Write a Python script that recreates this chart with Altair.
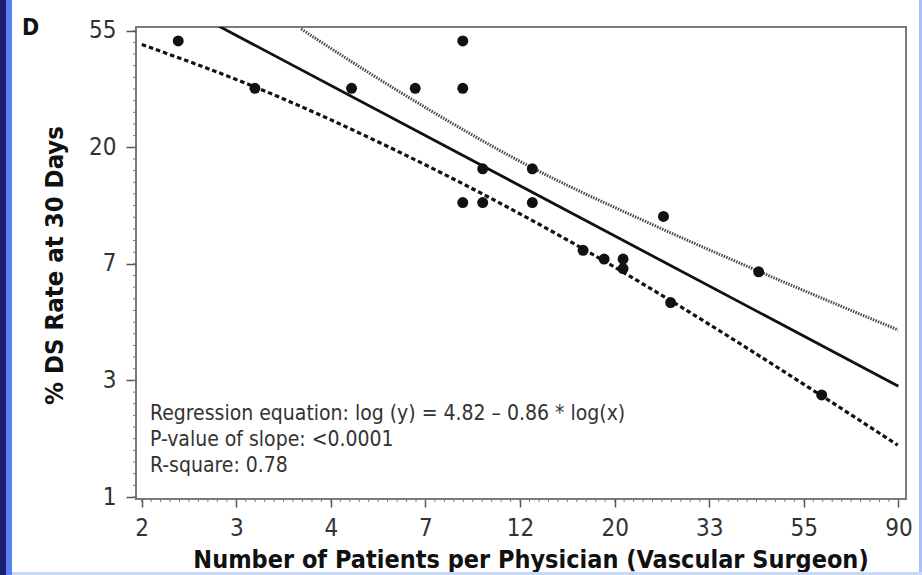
import json
import numpy as np
import pandas as pd
import altair as alt

# Observed physicians: patients treated vs. % DS rate at 30 days
patients = [2, 3, 5, 7, 9, 9, 10, 13, 9, 10, 13, 26, 17, 19, 21, 21, 27, 43, 60]
ds_rate = [50, 33.3, 33.3, 33.3, 50, 33.3, 16.7, 16.7, 12.5, 12.5, 12.5,
           11.1, 8.3, 7.7, 7.7, 7.1, 5.3, 6.9, 2.4]

# 95% confidence limits around the fitted line
lower_x = [1.65, 3.0, 6.3, 17.0, 27.1, 60.3, 89.7]
lower_y = [48.5, 33.7, 19.6, 8.4, 5.37, 2.37, 1.56]
upper_x = [3.83, 6.35, 13.07, 24.2, 43.3, 89.9]
upper_y = [55.4, 32.8, 16.76, 10.45, 6.90, 4.19]

# Fitted model: log(y) = 4.82 - 0.86 * log(x)
intercept = 4.82
slope = -0.86
fit_x = [1.65, 90]

annotation = [
    "Regression equation: log (y) = 4.82 \u2013 0.86 * log(x)",
    "P-value of slope: <0.0001",
    "R-square: 0.78",
]

# Axis ticks sit at even steps of the natural log, labelled with rounded values
x_tick_labels = ["2", "3", "4", "7", "12", "20", "33", "55", "90"]
y_tick_labels = ["1", "3", "7", "20", "55"]
x_ticks = [float(np.exp(0.5 * (i + 1))) for i in range(len(x_tick_labels))]
y_ticks = [float(np.exp(i)) for i in range(len(y_tick_labels))]
x_minor = [float(v) for v in np.exp(np.arange(0.5, 4.5001, 0.05))]
y_minor = [float(v) for v in np.exp(np.arange(0.0, 4.0001, 0.1))]

W, H = 770, 472
FONT = "DejaVu Sans Condensed, DejaVu Sans"

points = pd.DataFrame({"patients": patients, "rate": ds_rate})
lower = pd.DataFrame({"patients": lower_x, "rate": lower_y})
upper = pd.DataFrame({"patients": upper_x, "rate": upper_y})
fit = pd.DataFrame({"patients": fit_x})

x_scale = alt.Scale(type="log", domain=[1.600, 93.69], nice=False)
y_scale = alt.Scale(type="log", domain=[0.983, 56.36], nice=False)

x_axis = alt.Axis(
    values=x_ticks,
    labelExpr=f"{json.dumps(x_tick_labels)}[round(log(datum.value) * 2) - 1]",
    tickSize=8, tickWidth=1.5, tickColor="#555555",
    labelPadding=28, labelBaseline="alphabetic", labelFlush=False,
    labelOverlap=False, labelFont=FONT, labelFontSize=24, labelColor="#333333",
    domain=False, grid=False,
    title="Number of Patients per Physician (Vascular Surgeon)",
    titleFont=FONT, titleFontSize=25, titleFontWeight="bold", titleColor="#111111",
    titleX=394.5, titleY=68, titleBaseline="alphabetic", titleAlign="center",
)
y_axis = alt.Axis(
    values=y_ticks,
    labelExpr=f"{json.dumps(y_tick_labels)}[round(log(datum.value))]",
    tickSize=10, tickWidth=1.5, tickColor="#555555",
    labelPadding=10, labelBaseline="middle", labelFlush=False,
    labelOverlap=False, labelFont=FONT, labelFontSize=24, labelColor="#333333",
    domain=False, grid=False,
    title="% DS Rate at 30 Days",
    titleFont=FONT, titleFontSize=25.5, titleFontWeight="bold", titleColor="#111111",
    titleAngle=-90, titleX=-74, titleY=238, titleBaseline="alphabetic",
    titleAlign="center",
)

X = alt.X("patients:Q", scale=x_scale, axis=x_axis)
Y = alt.Y("rate:Q", scale=y_scale, axis=y_axis)

one = alt.Data(values=[{}])

# Slide border stripes
navy = alt.Chart(one).mark_rect(color="#1b1d6e").encode(
    x=alt.value(-136), x2=alt.value(-130), y=alt.value(-27), y2=alt.value(548))
blue = alt.Chart(one).mark_rect(color="#5d80f2").encode(
    x=alt.value(-130), x2=alt.value(-124), y=alt.value(-27), y2=alt.value(548))
right_edge = alt.Chart(one).mark_rect(color="#a9bff7").encode(
    x=alt.value(783), x2=alt.value(786), y=alt.value(-27), y2=alt.value(548))
bottom_edge = alt.Chart(one).mark_rect(color="#cad8f7").encode(
    x=alt.value(-124), x2=alt.value(786), y=alt.value(545), y2=alt.value(548))

# Minor tick marks along both axes
x_minor_ticks = alt.Chart(pd.DataFrame({"patients": x_minor})).mark_rule(
    color="#777777", strokeWidth=1).encode(
    x=X, y=alt.value(H), y2=alt.value(H + 3))
y_minor_ticks = alt.Chart(pd.DataFrame({"rate": y_minor})).mark_rule(
    color="#777777", strokeWidth=1).encode(
    y=Y, x=alt.value(0), x2=alt.value(-3))

upper_line = alt.Chart(upper).mark_line(
    color="#4a4a4a", strokeWidth=3, strokeDash=[1.5, 1.2],
    interpolate="monotone", clip=True).encode(x=X, y=Y)
lower_line = alt.Chart(lower).mark_line(
    color="#111111", strokeWidth=3.2, strokeDash=[4.5, 3],
    interpolate="monotone", clip=True).encode(x=X, y=Y)
fit_line = alt.Chart(fit).transform_calculate(
    rate=f"exp({intercept} + ({slope}) * log(datum.patients))"
).mark_line(color="#111111", strokeWidth=2.8, clip=True).encode(x=X, y=Y)

dots = alt.Chart(points).mark_circle(size=120, color="#111111", opacity=1).encode(
    x=X, y=Y)

texts = []
for i, line in enumerate(annotation):
    texts.append(alt.Chart(one).mark_text(
        align="left", baseline="alphabetic", font=FONT, fontSize=21,
        color="#333333", text=line).encode(
        x=alt.value(14), y=alt.value(393 + 26 * i)))

panel_letter = alt.Chart(one).mark_text(
    align="left", baseline="alphabetic", font=FONT, fontSize=23,
    fontWeight="bold", color="#111111", text="D").encode(
    x=alt.value(-114), y=alt.value(8))

chart = alt.layer(
    navy, blue, right_edge, bottom_edge,
    x_minor_ticks, y_minor_ticks,
    upper_line, lower_line, fit_line, dots, *texts, panel_letter,
).properties(
    width=W, height=H,
    autosize=alt.AutoSizeParams(type="none"),
    padding={"left": 136, "top": 27, "right": 16, "bottom": 76},
    background="white",
).configure_view(stroke="#7a7a7a", strokeWidth=2)

chart.save("out.html", embed_options={"renderer": "svg", "actions": False})
